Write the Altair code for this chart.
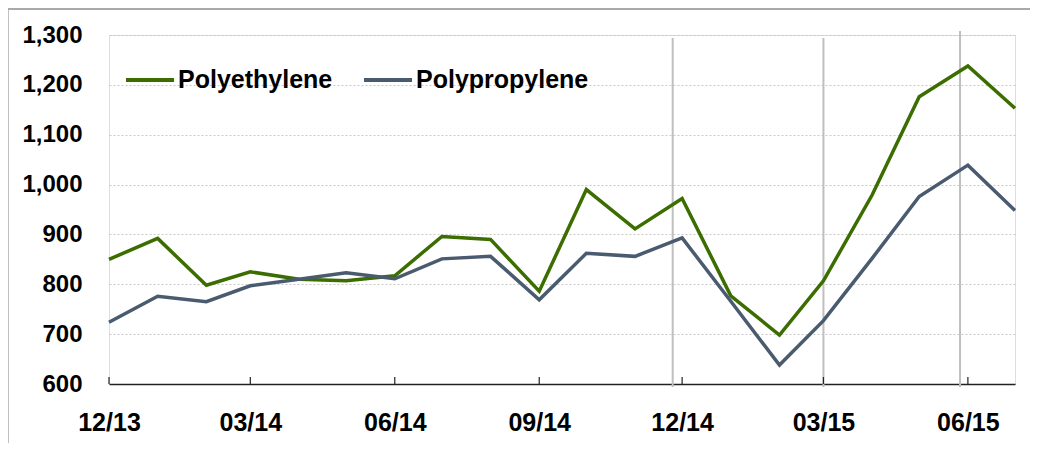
import altair as alt
import pandas as pd

months = ["2013-12", "2014-01", "2014-02", "2014-03", "2014-04", "2014-05", "2014-06",
          "2014-07", "2014-08", "2014-09", "2014-10", "2014-11", "2014-12", "2015-01",
          "2015-02", "2015-03", "2015-04", "2015-05", "2015-06", "2015-07"]
polyethylene = [850, 892, 798, 825, 810, 807, 817, 896, 890, 786, 990, 911, 972, 777,
                698, 807, 979, 1176, 1238, 1153]
polypropylene = [724, 776, 765, 797, 810, 823, 811, 851, 856, 769, 862, 856, 893, 766,
                 638, 727, 852, 976, 1039, 948]
series = ["Polyethylene", "Polypropylene"]
colors = ["#3b6d00", "#4a5a6f"]
tick_months = ["2013-12", "2014-03", "2014-06", "2014-09", "2014-12", "2015-03", "2015-06"]
marker_dates = ["2014-11-25", "2015-03-01", "2015-05-27"]
y_ticks = [600, 700, 800, 900, 1000, 1100, 1200, 1300]

def dt(s):
    parts = [int(p) for p in s.split("-")]
    if len(parts) == 2:
        parts.append(1)
    return alt.DateTime(year=parts[0], month=parts[1], date=parts[2])

def iso(s):
    return (s + "-01" if len(s) == 7 else s) + "T00:00:00"

rows = []
for name, vals in zip(series, [polyethylene, polypropylene]):
    for m, v in zip(months, vals):
        rows.append({"date": iso(m), "value": v, "series": name})
df = pd.DataFrame(rows)
ticks_df = pd.DataFrame({"date": [iso(m) for m in tick_months]})
markers_df = pd.DataFrame({"date": [iso(d) for d in marker_dates]})

W, H = 906, 349
font = "Liberation Sans"

xscale = alt.Scale(domain=[dt("2013-12"), dt("2015-07")], nice=False)
yscale = alt.Scale(domain=[600, 1300], nice=False, zero=False)

one = pd.DataFrame({"a": [0]})
border_top = alt.Chart(one).mark_rule(color="#8c8c8c", strokeWidth=1.5).encode(
    x=alt.value(-101), x2=alt.value(921), y=alt.value(-26))
border_left = alt.Chart(one).mark_rule(color="#ababab", strokeWidth=1.5).encode(
    x=alt.value(-101), y=alt.value(-26), y2=alt.value(408))

rules_a = alt.Chart(markers_df.iloc[:2]).mark_rule(color="#bfbfbf", strokeWidth=2).encode(
    x=alt.X("date:T", scale=xscale), y=alt.value(3), y2=alt.value(H + 3))
rules_b = alt.Chart(markers_df.iloc[2:]).mark_rule(color="#bfbfbf", strokeWidth=2).encode(
    x=alt.X("date:T", scale=xscale), y=alt.value(-4), y2=alt.value(H + 3))

lines = alt.Chart(df).mark_line(strokeWidth=3.5, strokeJoin="miter").encode(
    x=alt.X("date:T", scale=xscale, title=None,
            axis=alt.Axis(values=[dt(m) for m in tick_months], format="%m/%y",
                          labelFont=font, labelFontSize=25, labelFontWeight="bold",
                          labelColor="black", labelPadding=26, ticks=False, grid=False,
                          domainColor="#222222", domainWidth=1.5, labelFlush=False)),
    y=alt.Y("value:Q", scale=yscale, title=None,
            axis=alt.Axis(values=y_ticks, format=",d", labelFont=font, labelFontSize=24,
                          labelFontWeight="bold", labelColor="black", labelPadding=27,
                          ticks=False, domain=False, grid=True, gridColor="#c8c8c8",
                          gridDash=[2, 2], gridWidth=1)),
    color=alt.Color("series:N", scale=alt.Scale(domain=series, range=colors),
                    legend=alt.Legend(title=None, orient="none", legendX=15, legendY=19,
                                      direction="horizontal", symbolType="stroke",
                                      symbolSize=2304, symbolStrokeWidth=4,
                                      labelFont=font, labelFontSize=25,
                                      labelFontWeight="bold", labelColor="black",
                                      labelOffset=2, columnPadding=23, padding=0,
                                      labelLimit=400)),
)

tick_marks = alt.Chart(ticks_df).mark_rule(color="#222222", strokeWidth=1.2).encode(
    x=alt.X("date:T", scale=xscale), y=alt.value(H - 7), y2=alt.value(H))

chart = alt.layer(border_top, border_left, rules_a, rules_b, lines, tick_marks).properties(
    width=W, height=H,
    autosize=alt.AutoSizeParams(type="none"),
    padding={"left": 101, "top": 27, "right": 16, "bottom": 60},
).configure_view(stroke=None).configure(background="white")

chart.save("out.html", embed_options={"renderer": "svg", "actions": False})
